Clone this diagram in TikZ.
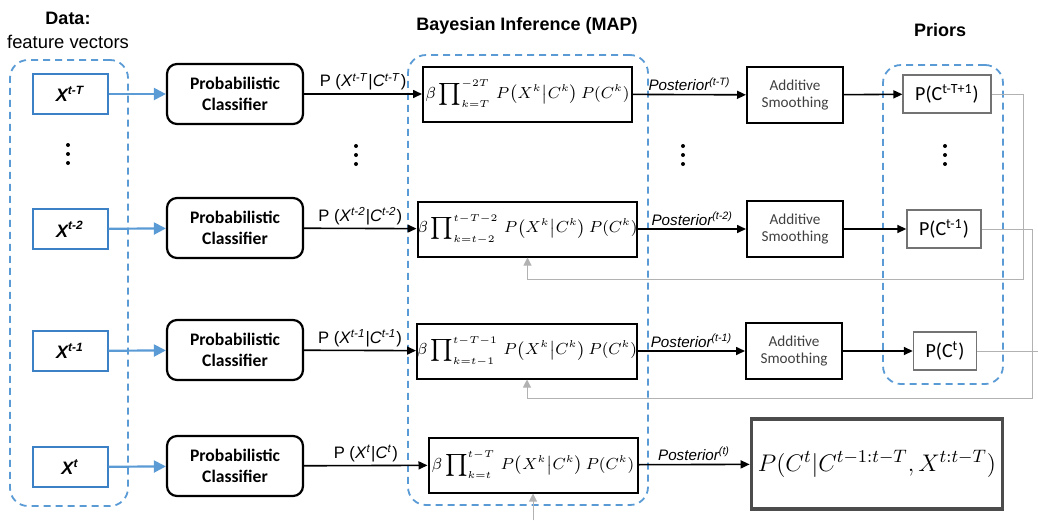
\documentclass[tikz,border=0pt]{standalone}
\usepackage{fontspec}
\setmainfont{Liberation Sans}
\newfontfamily\calibri{Carlito}
\usepackage{amsmath}
\usetikzlibrary{arrows.meta, positioning, fit}
\definecolor{dashblue}{RGB}{91,155,213}
\definecolor{boxblue}{RGB}{60,128,198}

\begin{document}
\begin{tikzpicture}[x=0.5pt, y=-0.5pt,
    feat/.style={draw=boxblue, line width=1pt, minimum width=37.5pt, minimum height=20pt,
                 font=\bfseries\itshape\fontsize{9}{10}\selectfont},
    clf/.style={draw, line width=1.1pt, rounded corners=5pt, minimum width=68pt,
                minimum height=30pt, align=center, font=\calibri\bfseries\fontsize{8.8}{10.5}\selectfont},
    map/.style={draw, line width=1pt, minimum width=104.5pt, minimum height=27.5pt,
                inner sep=0pt, font=\fontsize{7.8}{10}\selectfont},
    smooth/.style={draw, line width=1pt, minimum width=48pt, minimum height=28pt, align=center,
                   text=black!75, font=\calibri\fontsize{7.6}{8.8}\selectfont},
    prior/.style={draw=black!55, line width=0.8pt, minimum height=19pt, inner xsep=6pt,
                  font=\calibri\fontsize{10}{12}\selectfont},
    group/.style={draw=dashblue, line width=0.9pt, dash pattern=on 3.5pt off 2.5pt,
                  rounded corners=9pt, inner sep=0pt},
    title/.style={font=\bfseries\fontsize{9}{11}\selectfont},
    lbl/.style={above, inner sep=1.5pt, font=\fontsize{8.3}{10}\selectfont},
    post/.style={above, inner sep=1.5pt, font=\itshape\fontsize{7.6}{9}\selectfont},
    dots/.style={minimum width=4pt, minimum height=22pt, inner sep=0pt,
                 path picture={\fill (path picture bounding box.center) circle (1pt)
                   ++(0,-9) circle (1pt) ++(0,18) circle (1pt);}},
    barr/.style={-{Triangle[length=6pt,width=6pt]}, dashblue, line width=1.1pt},
    arr/.style={-{Triangle[length=4.5pt,width=4pt]}, line width=0.8pt},
    fb/.style={-{Triangle[length=4pt,width=4pt]}, black!30, line width=0.5pt}
  ]
  \useasboundingbox (0,0) rectangle (1038,520);

  % titles
  \node[title] (datat) at (68,18) {Data:};
  \node[font=\fontsize{9.2}{11}\selectfont] (datas) at (68,42) {feature vectors};
  \node[title] (mapt) at (527,26) {Bayesian Inference (MAP)};
  \node[title] (priort) at (940,30) {Priors};

  % feature vectors
  \node[feat] (x1) at (70,94) {X\textsuperscript{t-T}};
  \node[feat] (x2) at (70,229) {X\textsuperscript{t-2}};
  \node[feat] (x3) at (70,351) {X\textsuperscript{t-1}};
  \node[feat] (x4) at (70,467) {X\textsuperscript{t}};

  % classifiers
  \node[clf] (c1) at (235,94) {Probabilistic\\Classifier};
  \node[clf] (c2) at (235,228) {Probabilistic\\Classifier};
  \node[clf] (c3) at (235,350) {Probabilistic\\Classifier};
  \node[clf] (c4) at (235,466) {Probabilistic\\Classifier};

  % MAP products
  \node[map] (b1) at (527.5,94)
    {$\beta\displaystyle\prod\nolimits_{k=T}^{-2T}\,P\bigl(X^k\big|C^k\bigr)\,P(C^k)$};
  \node[map] (b2) at (527.5,229)
    {$\beta\displaystyle\prod\nolimits_{k=t-2}^{t-T-2}\,P\bigl(X^k\big|C^k\bigr)\,P(C^k)$};
  \node[map] (b3) at (527,351)
    {$\beta\displaystyle\prod\nolimits_{k=t-1}^{t-T-1}\,P\bigl(X^k\big|C^k\bigr)\,P(C^k)$};
  \node[map] (b4) at (533,465)
    {$\beta\displaystyle\prod\nolimits_{k=t}^{t-T}\,P\bigl(X^k\big|C^k\bigr)\,P(C^k)$};

  % smoothing
  \node[smooth] (s1) at (795,95) {Additive\\Smoothing};
  \node[smooth] (s2) at (795,229) {Additive\\Smoothing};
  \node[smooth] (s3) at (794,351) {Additive\\Smoothing};

  % priors
  \node[prior] (p1) at (947,94) {P(C\textsuperscript{t-T+1})};
  \node[prior] (p2) at (944,229) {P(C\textsuperscript{t-1})};
  \node[prior] (p3) at (945,351) {P(C\textsuperscript{t})};

  % result
  \node[draw=black!70, line width=1.6pt, minimum width=125pt, minimum height=45pt,
        font=\fontsize{12.4}{15}\selectfont] (res) at (877,464)
    {$P(C^t|C^{t-1:t-T},X^{t:t-T})$};

  % dots
  \node[dots] (d1) at (68,154) {};
  \node[dots] (d2) at (356,155) {};
  \node[dots] (d3) at (683,155) {};
  \node[dots] (d4) at (945,155) {};

  % dashed groups
  \node[group, fit={(10,60)(128,506)}] (gdata) {};
  \node[group, fit={(408,55)(648,505)}] (gmap) {};
  \node[group, fit={(883,65)(1003,384)}] (gprior) {};

  % arrows
  \foreach \i in {1,...,4} {
    \draw[barr] (x\i) -- (c\i);
  }
  \draw[arr] (c1) -- node[lbl] {P (\textit{X}\textsuperscript{\textit{t-T}}|\textit{C}\textsuperscript{\textit{t-T}})} (b1);
  \draw[arr] (c2) -- node[lbl] {P (\textit{X}\textsuperscript{\textit{t-2}}|\textit{C}\textsuperscript{\textit{t-2}})} (b2);
  \draw[arr] (c3) -- node[lbl] {P (\textit{X}\textsuperscript{\textit{t-1}}|\textit{C}\textsuperscript{\textit{t-1}})} (b3);
  \draw[arr] (c4) -- node[lbl] {P (\textit{X}\textsuperscript{\textit{t}}|\textit{C}\textsuperscript{\textit{t}})} (b4);

  \draw[arr] (b1) -- node[post] {Posterior\textsuperscript{(t-T)}} (s1);
  \draw[arr] (b2) -- node[post] {Posterior\textsuperscript{(t-2)}} (s2);
  \draw[arr] (b3) -- node[post] {Posterior\textsuperscript{(t-1)}} (s3);
  \draw[arr] (b4) -- node[post] {Posterior\textsuperscript{(t)}} (res);

  \draw[arr] (s1) -- (p1);
  \draw[arr] (s2) -- (p2);
  \draw[arr] (s3) -- (p3);

  % priors fed back
  \coordinate (out) at (1038,351);
  \coordinate (in) at (533,520);
  \draw[fb] (p1.east) -| (1023,279) -| (b2.south);
  \draw[fb] (p2.east) -| (1032,398) -| (b3.south);
  \draw[black!30, line width=0.5pt] (p3.east) -- (out);
  \draw[fb] (in) -- (b4.south);
\end{tikzpicture}
\end{document}
